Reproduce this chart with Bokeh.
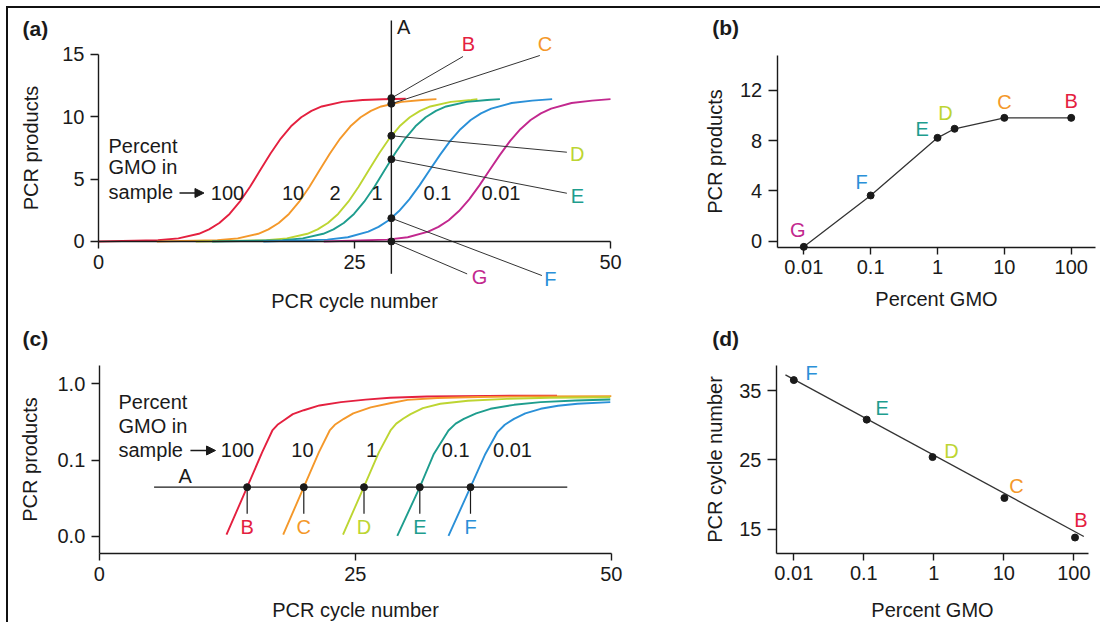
from bokeh.plotting import figure
from bokeh.models import (Range1d, LinearAxis, LogAxis, FixedTicker, CustomJSTickFormatter,
                          Arrow, NormalHead)
from bokeh.layouts import row, column
from bokeh.embed import file_html
from bokeh.resources import INLINE
from bokeh.core.properties import value

FONT = "Liberation Sans"
FS = "20px"
INK = "#1a1a1a"
RED, ORANGE, YG, TEAL, BLUE, MAG = "#e4203f", "#f4982a", "#bdd532", "#1e9d8e", "#2a90d8", "#c2288e"

# ---------------- data: panel (a) amplification curves (linear) ----------------
a_pct_labels = ["100", "10", "2", "1", "0.1", "0.01"]
a_red_x = [0.0, 5.8, 7.8, 9.8, 10.8, 11.8, 12.8, 13.8, 14.8, 15.8, 16.8, 17.8, 18.8, 19.8, 20.8, 21.8, 23.8, 25.8, 27.8, 30.0]
a_red_y = [0, 0.10, 0.25, 0.62, 0.97, 1.48, 2.21, 3.19, 4.39, 5.73, 7.06, 8.26, 9.24, 9.97, 10.48, 10.83, 11.20, 11.35, 11.41, 11.45]
a_orange_x = [5.7, 11.6, 13.6, 15.6, 16.6, 17.6, 18.6, 19.6, 20.6, 21.6, 22.6, 23.6, 24.6, 25.6, 26.6, 27.6, 29.6, 31.6, 33.0]
a_orange_y = [0, 0.10, 0.25, 0.62, 0.97, 1.48, 2.21, 3.19, 4.39, 5.73, 7.06, 8.26, 9.24, 9.97, 10.48, 10.83, 11.20, 11.35, 11.42]
a_yg_x = [9.5, 16.4, 18.4, 20.4, 21.4, 22.4, 23.4, 24.4, 25.4, 26.4, 27.4, 28.4, 29.4, 30.4, 31.4, 32.4, 34.4, 36.4, 37.0]
a_yg_y = [0, 0.10, 0.25, 0.62, 0.97, 1.48, 2.21, 3.19, 4.39, 5.73, 7.06, 8.26, 9.24, 9.97, 10.48, 10.83, 11.20, 11.35, 11.42]
a_teal_x = [11.1, 17.95, 19.95, 21.95, 22.95, 23.95, 24.95, 25.95, 26.95, 27.95, 28.95, 29.95, 30.95, 31.95, 32.95, 33.95, 35.95, 37.95, 39.2]
a_teal_y = [0, 0.10, 0.25, 0.62, 0.97, 1.48, 2.21, 3.19, 4.39, 5.73, 7.06, 8.26, 9.24, 9.97, 10.48, 10.83, 11.20, 11.35, 11.42]
a_blue_x = [16.1, 22.35, 24.35, 26.35, 27.35, 28.35, 29.35, 30.35, 31.35, 32.35, 33.35, 34.35, 35.35, 36.35, 37.35, 38.35, 40.35, 42.35, 44.3]
a_blue_y = [0, 0.15, 0.34, 0.79, 1.17, 1.71, 2.44, 3.38, 4.50, 5.73, 6.95, 8.07, 9.01, 9.74, 10.28, 10.66, 11.11, 11.30, 11.42]
a_mag_x = [22.0, 28.2, 30.2, 32.2, 33.2, 34.2, 35.2, 36.2, 37.2, 38.2, 39.2, 40.2, 41.2, 42.2, 43.2, 44.2, 46.2, 48.2, 50.0]
a_mag_y = [0, 0.15, 0.34, 0.79, 1.17, 1.71, 2.44, 3.38, 4.50, 5.73, 6.95, 8.07, 9.01, 9.74, 10.28, 10.66, 11.11, 11.30, 11.42]
a_line_A_cycle = 28.6
a_dot_letters = ["B", "C", "D", "E", "F", "G"]
a_dot_products = [11.5, 11.05, 8.48, 6.6, 1.87, 0.0]

# ---------------- data: panel (b) ----------------
b_letters = ["G", "F", "E", "D", "C", "B"]
b_pct = [0.01, 0.1, 1.0, 1.8, 10.0, 100.0]
b_products = [-0.45, 3.64, 8.23, 8.95, 9.82, 9.82]

# ---------------- data: panel (c) amplification curves (log) ----------------
c_pct_labels = ["100", "10", "1", "0.1", "0.01"]
c_red_x = [12.42, 14.44, 15.9, 16.9, 17.4, 18.0, 18.9, 19.97, 21.5, 23.6, 26.0, 28.4, 32.0, 38.0, 44.7]
c_red_y = [0.0105, 0.044, 0.126, 0.244, 0.29, 0.33, 0.40, 0.45, 0.52, 0.575, 0.62, 0.655, 0.68, 0.695, 0.70]
c_orange_x = [17.96, 19.97, 21.44, 22.5, 23.0, 23.88, 24.8, 26.5, 28.5, 30.1, 33.0, 37.0, 42.0, 50.0]
c_orange_y = [0.0105, 0.044, 0.126, 0.244, 0.29, 0.347, 0.41, 0.49, 0.56, 0.616, 0.65, 0.67, 0.685, 0.69]
c_yg_x = [23.8, 25.83, 27.3, 28.44, 29.0, 29.7, 30.4, 31.6, 33.3, 36.0, 39.8, 44.0, 49.9]
c_yg_y = [0.0105, 0.044, 0.126, 0.244, 0.30, 0.35, 0.40, 0.48, 0.547, 0.60, 0.635, 0.655, 0.667]
c_teal_x = [29.1, 31.3, 32.67, 34.1, 34.8, 35.6, 36.8, 38.2, 40.5, 43.1, 46.5, 49.9]
c_teal_y = [0.0101, 0.044, 0.12, 0.244, 0.30, 0.347, 0.41, 0.47, 0.53, 0.575, 0.605, 0.622]
c_blue_x = [34.1, 36.25, 37.7, 38.86, 39.6, 40.5, 41.6, 43.1, 44.8, 46.7, 49.9]
c_blue_y = [0.0101, 0.044, 0.12, 0.23, 0.29, 0.347, 0.41, 0.47, 0.515, 0.547, 0.575]
c_threshold = 0.044
c_dot_letters = ["B", "C", "D", "E", "F"]
c_dot_cycles = [14.44, 19.97, 25.85, 31.3, 36.25]

# ---------------- data: panel (d) ----------------
d_letters = ["F", "E", "D", "C", "B"]
d_pct = [0.01, 0.11, 0.96, 10.2, 104.0]
d_cycles = [36.5, 30.8, 25.4, 19.5, 13.8]
d_fit_pct = [0.0076, 139.0]
d_fit_cycles = [37.26, 13.95]

LETTER_COLORS = {"B": RED, "C": ORANGE, "D": YG, "E": TEAL, "F": BLUE, "G": MAG}


def panel(w, h, xr, yr, xtype="linear", ytype="linear"):
    p = figure(width=w, height=h, x_range=Range1d(*xr), y_range=Range1d(*yr),
               x_axis_type=xtype, y_axis_type=ytype,
               x_axis_location=None, y_axis_location=None,
               toolbar_location=None, output_backend="svg", min_border=0,
               outline_line_color=None, background_fill_color="white",
               border_fill_color="white")
    p.xgrid.visible = False
    p.ygrid.visible = False
    return p


def add_axis(p, kind, side, loc, bounds, ticks, label, label_standoff, tick_out, fmt=None,
             tick_standoff=5):
    cls = LogAxis if kind == "log" else LinearAxis
    ax = cls(fixed_location=loc, bounds=bounds, ticker=FixedTicker(ticks=ticks),
             axis_label=label, axis_label_standoff=label_standoff,
             axis_label_text_font=FONT, axis_label_text_font_size=FS,
             axis_label_text_font_style="normal", axis_label_text_color=INK,
             major_label_text_font=FONT, major_label_text_font_size=FS,
             major_label_text_color=INK, major_label_standoff=tick_standoff,
             axis_line_color=INK, axis_line_width=1.4,
             major_tick_line_color=INK, major_tick_line_width=1.4,
             major_tick_out=tick_out, major_tick_in=0,
             minor_tick_out=0, minor_tick_in=0)
    if fmt is not None:
        ax.formatter = CustomJSTickFormatter(code=fmt)
    p.add_layout(ax, side)
    return ax


def txt(p, x, y, t, color=INK, align="center", size=FS, style="normal"):
    p.text(x=x, y=y, text=t, text_color=color, text_font=value(FONT),
           text_font_size=value(size), text_font_style=style,
           text_align=align, text_baseline="middle")


LOGFMT = "return tick < 1 ? tick.toString() : tick.toFixed(0);"

# ================= panel (a) =================
pa = panel(642, 318, (-8.789, 53.906), (-6.818, 18.689))
add_axis(pa, "linear", "below", 0, (0, 50), [0, 25, 50], "PCR cycle number", 17, 7, tick_standoff=7)
add_axis(pa, "linear", "left", 0, (0, 15), [0, 5, 10, 15], "PCR products", 17, 8, tick_standoff=6)
for xs, ys, c in [(a_red_x, a_red_y, RED), (a_orange_x, a_orange_y, ORANGE),
                  (a_yg_x, a_yg_y, YG), (a_teal_x, a_teal_y, TEAL),
                  (a_blue_x, a_blue_y, BLUE), (a_mag_x, a_mag_y, MAG)]:
    pa.line(xs, ys, line_color=c, line_width=1.9)
pa.segment(x0=[a_line_A_cycle], y0=[-2.59], x1=[a_line_A_cycle], y1=[17.73],
           line_color=INK, line_width=1.4)
a_label_xy = {"B": (36.13, 15.86), "C": (43.6, 15.86), "D": (46.76, 7.03),
              "E": (46.76, 3.61), "F": (44.12, -2.99), "G": (37.2, -2.86)}
a_leader_end = {"B": (35.6, 14.84), "C": (43.1, 14.92), "D": (45.74, 7.16),
                "E": (45.74, 3.87), "F": (43.3, -2.73), "G": (36.0, -2.6)}
pa.segment(x0=[a_line_A_cycle] * 6, y0=a_dot_products,
           x1=[a_leader_end[k][0] for k in a_dot_letters],
           y1=[a_leader_end[k][1] for k in a_dot_letters],
           line_color="#333333", line_width=1.0)
pa.scatter([a_line_A_cycle] * 6, a_dot_products, size=7, color=INK)
txt(pa, [a_label_xy[k][0] for k in a_dot_letters], [a_label_xy[k][1] for k in a_dot_letters],
    a_dot_letters, color=[LETTER_COLORS[k] for k in a_dot_letters])
txt(pa, [29.79], [17.17], ["A"])
txt(pa, [-7.42], [17.09], ["(a)"], align="left", size="21px", style="bold")
txt(pa, [0.98, 0.98, 0.98], [7.70, 5.96, 3.95], ["Percent", "GMO in", "sample"], align="left")
txt(pa, [12.6, 19.0, 23.1, 27.2, 33.1, 39.3], [3.87] * 6, a_pct_labels)
pa.add_layout(Arrow(end=NormalHead(size=9, fill_color=INK, line_color=INK, line_width=1),
                    x_start=7.91, y_start=3.89, x_end=10.3, y_end=3.89,
                    line_color=INK, line_width=1.5))

# ================= panel (b) =================
pb = panel(450, 318, (5.09e-5, 274.2), (-6.791, 18.527), xtype="log")
add_axis(pb, "log", "below", -0.48, (0.004, 229), [0.01, 0.1, 1, 10, 100], "Percent GMO", 10, 7,
         fmt=LOGFMT, tick_standoff=6)
add_axis(pb, "linear", "left", 0.004, (-0.48, 14.8), [0, 4, 8, 12], "PCR products", 11, 9,
         tick_standoff=6)
pb.line(b_pct, b_products, line_color="#333333", line_width=1.3)
pb.scatter(b_pct, b_products, size=7, color=INK)
b_label_xy = {"G": (0.0081, 0.9), "F": (0.073, 4.75), "E": (0.59, 8.95), "D": (1.32, 10.2),
              "C": (10.0, 11.1), "B": (100.0, 11.2)}
txt(pb, [b_label_xy[k][0] for k in b_letters], [b_label_xy[k][1] for k in b_letters],
    b_letters, color=[LETTER_COLORS[k] for k in b_letters])
txt(pb, [4.27e-4], [16.99], ["(b)"], align="left", size="21px", style="bold")

# ================= panel (c) =================
pc = panel(642, 296, (-8.867, 53.828), (7.37e-4, 5.65), ytype="log")
add_axis(pc, "linear", "below", 0.00587, (0, 50), [0, 25, 50], "PCR cycle number", 15, 7,
         tick_standoff=6)
add_axis(pc, "log", "left", 0, (0.00587, 1.738), [0.01, 0.1, 1.0], "PCR products", 14, 8,
         fmt="return tick.toFixed(1);", tick_standoff=6)
for xs, ys, c in [(c_red_x, c_red_y, RED), (c_orange_x, c_orange_y, ORANGE),
                  (c_yg_x, c_yg_y, YG), (c_teal_x, c_teal_y, TEAL), (c_blue_x, c_blue_y, BLUE)]:
    pc.line(xs, ys, line_color=c, line_width=1.9)
pc.segment(x0=[5.35], y0=[c_threshold], x1=[45.7], y1=[c_threshold], line_color=INK, line_width=1.3)
pc.segment(x0=c_dot_cycles, y0=[c_threshold] * 5, x1=c_dot_cycles, y1=[0.0197] * 5,
           line_color=INK, line_width=1.2)
pc.scatter(c_dot_cycles, [c_threshold] * 5, size=7, color=INK)
txt(pc, c_dot_cycles, [0.01336] * 5, c_dot_letters, color=[LETTER_COLORS[k] for k in c_dot_letters])
txt(pc, [8.38], [0.0626], ["A"])
txt(pc, [-7.5], [3.93], ["(c)"], align="left", size="21px", style="bold")
txt(pc, [1.875, 1.875, 1.875], [0.5735, 0.2836, 0.136], ["Percent", "GMO in", "sample"], align="left")
txt(pc, [13.5, 19.84, 26.58, 34.8, 40.35], [0.137] * 5, c_pct_labels)
pc.add_layout(Arrow(end=NormalHead(size=9, fill_color=INK, line_color=INK, line_width=1),
                    x_start=8.9, y_start=0.1333, x_end=11.35, y_end=0.1333,
                    line_color=INK, line_width=1.5))

# ================= panel (d) =================
pd_ = panel(450, 296, (10 ** -4.047, 240.4), (1.547, 44.229), xtype="log")
add_axis(pd_, "log", "below", 11.54, (0.00566, 163.7), [0.01, 0.1, 1, 10, 100], "Percent GMO", 15, 7,
         fmt=LOGFMT, tick_standoff=6)
add_axis(pd_, "linear", "left", 0.00566, (11.54, 38.6), [15, 25, 35], "PCR cycle number", 10, 9,
         tick_standoff=6)
pd_.line(d_fit_pct, d_fit_cycles, line_color="#333333", line_width=1.3)
pd_.scatter(d_pct, d_cycles, size=7, color=INK)
d_label_xy = {"F": (0.0179, 37.5), "E": (0.183, 32.45), "D": (1.78, 26.3), "C": (15.2, 21.3),
              "B": (126.0, 16.3)}
txt(pd_, [d_label_xy[k][0] for k in d_letters], [d_label_xy[k][1] for k in d_letters],
    d_letters, color=[LETTER_COLORS[k] for k in d_letters])
txt(pd_, [6.83e-4], [42.5], ["(d)"], align="left", size="21px", style="bold")

layout = column(row(pa, pb), row(pc, pd_),
                styles={"margin-left": "6px", "margin-top": "6px",
                        "border-top": "2px solid #111111", "border-left": "2px solid #111111"})

open("out.html", "w").write(file_html(layout, INLINE))
